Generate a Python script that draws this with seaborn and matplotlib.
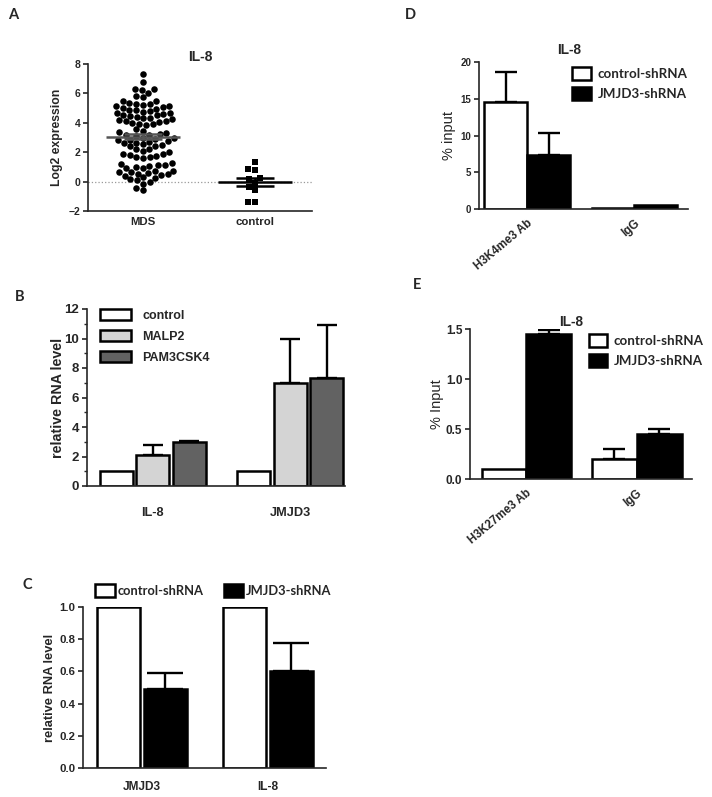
import numpy as np
import pandas as pd
import seaborn as sns
import matplotlib.pyplot as plt
import matplotlib.transforms as mtransforms
from matplotlib.patches import Patch
from matplotlib.ticker import MultipleLocator

# ---------------- data ----------------
# A: IL-8 log2 expression, MDS patients vs controls
mds_vals = [7.35, 6.75,
            6.3, 6.3, 6.25, 6.05, 5.85, 5.75,
            5.1, 5.12, 5.15, 5.2, 5.25, 5.3, 5.35, 5.45, 5.5,
            4.45, 4.5, 4.55, 4.6, 4.65, 4.7, 4.75, 4.8, 4.85, 4.9, 4.95, 5.0,
            3.85, 3.9, 3.95, 4.0, 4.05, 4.1, 4.15, 4.2, 4.25, 4.3, 4.35, 4.4,
            3.1, 3.15, 3.2, 3.25, 3.3, 3.35, 3.45, 3.55,
            2.4, 2.45, 2.5, 2.55, 2.6, 2.65, 2.7, 2.75, 2.8, 2.85, 2.9, 2.95, 3.0,
            1.6, 1.65, 1.7, 1.75, 1.8, 1.85, 1.9, 2.0, 2.1, 2.2, 2.25,
            0.9, 0.95, 1.0, 1.05, 1.1, 1.15, 1.2, 1.25,
            0.4, 0.45, 0.5, 0.55, 0.6, 0.62, 0.65, 0.7, 0.75,
            -0.15, -0.05, 0.1, 0.15, 0.25, 0.3,
            -0.6, -0.45]
ctrl_vals = [1.36, 0.88, 0.82, 0.27, 0.20, -0.07, -0.34, -0.54, -1.36, -1.36]
a_groups = ['MDS', 'control']

# B: relative RNA level after TLR stimulation
b_genes = ['IL-8', 'JMJD3']
b_treat = ['control', 'MALP2', 'PAM3CSK4']
b_control = [1.0, 1.0]
b_malp2 = [2.1, 7.0]
b_pam = [2.95, 7.35]
b_control_err = [0.0, 0.0]
b_malp2_err = [0.7, 3.0]
b_pam_err = [0.12, 3.55]

# C: knockdown
c_genes = ['JMJD3', 'IL-8']
sh_groups = ['control-shRNA', 'JMJD3-shRNA']
c_ctrl = [1.0, 1.0]
c_kd = [0.49, 0.60]
c_ctrl_err = [0.0, 0.0]
c_kd_err = [0.10, 0.175]

# D: H3K4me3 ChIP at IL-8
d_cats = ['H3K4me3 Ab', 'IgG']
d_ctrl = [14.6, 0.08]
d_kd = [7.4, 0.5]
d_ctrl_err = [4.0, 0.0]
d_kd_err = [2.9, 0.0]

# E: H3K27me3 ChIP at IL-8
e_cats = ['H3K27me3 Ab', 'IgG']
e_ctrl = [0.1, 0.2]
e_kd = [1.45, 0.45]
e_ctrl_err = [0.0, 0.1]
e_kd_err = [0.045, 0.055]

# ---------------- style ----------------
sns.set_style('ticks')
plt.rcParams['font.family'] = ['Liberation Sans', 'DejaVu Sans']
plt.rcParams['font.weight'] = 'bold'
plt.rcParams['axes.labelweight'] = 'bold'
plt.rcParams['axes.titleweight'] = 'bold'
plt.rcParams['axes.linewidth'] = 1.2
plt.rcParams['ytick.major.width'] = 1.2
plt.rcParams['ytick.minor.width'] = 1.0
plt.rcParams['ytick.major.size'] = 3.5
plt.rcParams['ytick.minor.size'] = 2
plt.rcParams['ytick.direction'] = 'out'

W, H = 712, 797
fig = plt.figure(figsize=(W / 100, H / 100), dpi=100)


def box(l, r, t, b):
    return [l / W, 1 - b / H, (r - l) / W, (b - t) / H]


def fpos(x, y):
    return x / W, 1 - y / H


def clean(ax):
    sns.despine(ax=ax)
    ax.tick_params(axis='x', length=0)
    ax.set_xlabel('')


def add_err(ax, errs_list, capsz):
    for cont, errs in zip(ax.containers, errs_list):
        for p, e in zip(cont.patches, errs):
            if e <= 0:
                continue
            xc = p.get_x() + p.get_width() / 2
            ax.errorbar([xc], [p.get_height()], yerr=[[0], [e]], fmt='none',
                        ecolor='black', elinewidth=1.7, capthick=1.7,
                        capsize=capsz, zorder=0.5)


def bars(ax, cats, groups, series, colors, width, gap):
    df = pd.DataFrame({
        'cat': cats * len(groups),
        'grp': [g for g in groups for _ in cats],
        'val': [v for s in series for v in s],
    })
    sns.barplot(data=df, x='cat', y='val', hue='grp', order=cats, hue_order=groups,
                palette=colors, edgecolor='black', linewidth=1.8, width=width,
                gap=gap, errorbar=None, legend=False, saturation=1, ax=ax)


def legend(ax, groups, colors, **kw):
    handles = [Patch(facecolor=c, edgecolor='black', linewidth=1.8) for c in colors]
    ax.legend(handles, groups, frameon=False, **kw)


def slanted(ax, labels, dx):
    ax.set_xticks(range(len(labels)))
    ax.set_xticklabels(labels, rotation=40, ha='right', rotation_mode='anchor', fontsize=8.4)
    ax.tick_params(axis='x', pad=6)
    shift = mtransforms.ScaledTranslation(dx / 100, 0, fig.dpi_scale_trans)
    for lab in ax.get_xticklabels():
        lab.set_transform(lab.get_transform() + shift)


lato = {'family': 'Lato', 'weight': 'bold', 'size': 9.6}

# ---------------- A ----------------
axA = fig.add_axes(box(88, 312, 64, 211))
sns.swarmplot(x=['MDS'] * len(mds_vals), y=mds_vals, order=a_groups, color='black',
              size=4.7, marker='o', warn_thresh=1, ax=axA)
sns.swarmplot(x=['control'] * len(ctrl_vals), y=ctrl_vals, order=a_groups, color='black',
              size=4.8, marker='s', warn_thresh=1, ax=axA)
for i, vals in enumerate([mds_vals, ctrl_vals]):
    m = np.mean(vals)
    sem = np.std(vals, ddof=1) / np.sqrt(len(vals))
    col = '#555555' if i == 0 else 'black'
    axA.hlines(m, i - 0.33, i + 0.33, color=col, lw=1.8, zorder=5)
    axA.hlines([m - sem, m + sem], i - 0.17, i + 0.17, color=col, lw=1.8, zorder=5)
    axA.vlines(i, m - sem, m + sem, color=col, lw=1.8, zorder=5)
axA.axhline(0, color='#999999', lw=0.9, ls=':', zorder=0)
axA.set_xlim(-0.49, 1.51)
axA.set_ylim(-2, 8)
axA.set_yticks([-2, 0, 2, 4, 6, 8])
axA.tick_params(axis='y', labelsize=7.5, pad=2)
axA.tick_params(axis='x', labelsize=8.2, pad=4)
axA.set_ylabel('Log2 expression', fontsize=8.8, labelpad=4)
axA.set_title('IL-8', fontsize=10, pad=1)
clean(axA)

# ---------------- B ----------------
axB = fig.add_axes(box(87, 345, 309, 486))
b_colors = ['white', '#d4d4d4', '#626262']
bars(axB, b_genes, b_treat, [b_control, b_malp2, b_pam], b_colors, 0.8, 0.1)
add_err(axB, [b_control_err, b_malp2_err, b_pam_err], 7)
axB.set_xlim(-0.48, 1.40)
axB.set_ylim(0, 12)
axB.yaxis.set_major_locator(MultipleLocator(2))
axB.yaxis.set_minor_locator(MultipleLocator(1))
axB.tick_params(axis='y', labelsize=9.5, pad=2)
axB.tick_params(axis='x', labelsize=9.2, pad=15)
axB.set_ylabel('relative RNA level', fontsize=10.3, labelpad=0)
legend(axB, b_treat, b_colors, loc='upper left', bbox_to_anchor=(0.03, 1.03),
       fontsize=9, handlelength=2.5, handleheight=1.0, labelspacing=0.65,
       handletextpad=0.9, borderaxespad=0)
clean(axB)

# ---------------- C ----------------
axC = fig.add_axes(box(83, 326, 607, 768))
sh_colors = ['white', 'black']
bars(axC, c_genes, sh_groups, [c_ctrl, c_kd], sh_colors, 0.74, 0.08)
add_err(axC, [c_ctrl_err, c_kd_err], 13)
axC.set_xlim(-0.47, 1.46)
axC.set_ylim(0, 1.0)
axC.yaxis.set_major_locator(MultipleLocator(0.2))
axC.tick_params(axis='y', labelsize=8.2, pad=2)
axC.tick_params(axis='x', labelsize=8.6, pad=9)
axC.set_ylabel('relative RNA level', fontsize=9.3, labelpad=2)
legend(axC, sh_groups, sh_colors, loc='lower left', bbox_to_anchor=(0.03, 1.03),
       ncol=2, prop=dict(lato, size=9.3), handlelength=1.5, handleheight=1.1,
       handletextpad=0.2, columnspacing=1.6, borderaxespad=0)
clean(axC)

# ---------------- D ----------------
axD = fig.add_axes(box(479, 688, 62, 209))
bars(axD, d_cats, sh_groups, [d_ctrl, d_kd], sh_colors, 0.8, 0)
add_err(axD, [d_ctrl_err, d_kd_err], 8)
axD.set_xlim(-0.45, 1.50)
axD.set_ylim(0, 20)
axD.yaxis.set_major_locator(MultipleLocator(5))
axD.tick_params(axis='y', labelsize=7, pad=2)
axD.set_ylabel('% input', fontsize=10.5, fontweight='normal', labelpad=3)
slanted(axD, d_cats, -9)
legend(axD, sh_groups, sh_colors, loc='upper left', bbox_to_anchor=(0.42, 1.0),
       prop=lato, handlelength=1.4, handleheight=1.1, handletextpad=0.5,
       labelspacing=0.5, borderaxespad=0)
fig.text(*fpos(569, 50), 'IL-8', fontsize=9.8, ha='center', va='center')
clean(axD)

# ---------------- E ----------------
axE = fig.add_axes(box(470, 692, 329, 479))
bars(axE, e_cats, sh_groups, [e_ctrl, e_kd], sh_colors, 0.81, 0)
add_err(axE, [e_ctrl_err, e_kd_err], 8)
axE.set_xlim(-0.51, 1.50)
axE.set_ylim(0, 1.5)
axE.yaxis.set_major_locator(MultipleLocator(0.5))
axE.tick_params(axis='y', labelsize=8.5, pad=2)
axE.set_ylabel('% Input', fontsize=10.5, fontweight='normal', labelpad=1)
slanted(axE, e_cats, -13)
legend(axE, sh_groups, sh_colors, loc='upper left', bbox_to_anchor=(0.51, 1.0),
       prop=lato, handlelength=1.4, handleheight=1.1, handletextpad=0.5,
       labelspacing=0.5, borderaxespad=0)
fig.text(*fpos(571, 322), 'IL-8', fontsize=9.8, ha='center', va='center')
clean(axE)

# ---------------- panel letters ----------------
for letter, (x, y) in zip('ABCDE', [(13, 15), (20, 297), (27, 585), (410, 15), (417, 285)]):
    fig.text(*fpos(x, y), letter, fontsize=10.5, family='Lato', fontweight='bold',
             ha='center', va='center')

fig.savefig('out.png', dpi=100)
